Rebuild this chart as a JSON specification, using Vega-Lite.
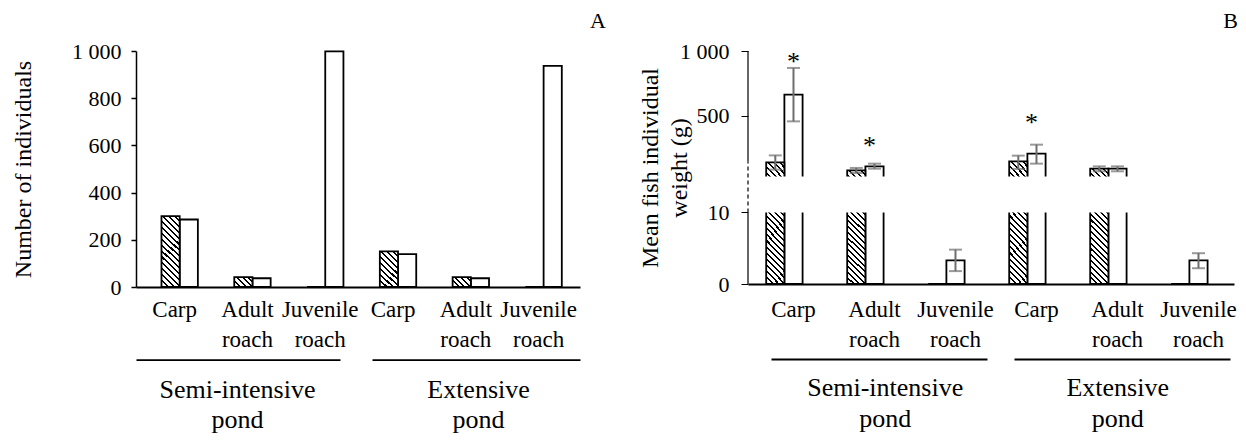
{
  "$schema": "https://vega.github.io/schema/vega-lite/v6.json",
  "background": "white",
  "padding": {"left": 11, "top": 10, "right": 0, "bottom": 0},
  "config": {
    "view": {"stroke": null},
    "font": "Liberation Serif",
    "text": {"font": "Liberation Serif"},
    "axis": {"labelFont": "Liberation Serif", "titleFont": "Liberation Serif", "labelColor": "black", "titleColor": "black", "titleFontWeight": "normal", "labelFontWeight": "normal", "grid": false, "domainColor": "black", "tickColor": "black"},
    "title": {"font": "Liberation Serif", "fontWeight": "normal", "color": "black", "fontSize": 22}
  },
  "datasets": {
    "countA": [
      {"pond": "Semi-intensive pond", "species": "Carp", "cat": "S-Carp", "series": "I", "n": 300},
      {"pond": "Semi-intensive pond", "species": "Carp", "cat": "S-Carp", "series": "II", "n": 286},
      {"pond": "Semi-intensive pond", "species": "Adult roach", "cat": "S-Adult roach", "series": "I", "n": 42},
      {"pond": "Semi-intensive pond", "species": "Adult roach", "cat": "S-Adult roach", "series": "II", "n": 37},
      {"pond": "Semi-intensive pond", "species": "Juvenile roach", "cat": "S-Juvenile roach", "series": "I", "n": 0},
      {"pond": "Semi-intensive pond", "species": "Juvenile roach", "cat": "S-Juvenile roach", "series": "II", "n": 998},
      {"pond": "Extensive pond", "species": "Carp", "cat": "E-Carp", "series": "I", "n": 151},
      {"pond": "Extensive pond", "species": "Carp", "cat": "E-Carp", "series": "II", "n": 139},
      {"pond": "Extensive pond", "species": "Adult roach", "cat": "E-Adult roach", "series": "I", "n": 42},
      {"pond": "Extensive pond", "species": "Adult roach", "cat": "E-Adult roach", "series": "II", "n": 37},
      {"pond": "Extensive pond", "species": "Juvenile roach", "cat": "E-Juvenile roach", "series": "I", "n": 0},
      {"pond": "Extensive pond", "species": "Juvenile roach", "cat": "E-Juvenile roach", "series": "II", "n": 937}
    ],
    "weightB": [
      {"pond": "Semi-intensive pond", "species": "Carp", "cat": "S-Carp", "series": "I", "mean": 139, "lo": 83, "hi": 193},
      {"pond": "Semi-intensive pond", "species": "Carp", "cat": "S-Carp", "series": "II", "mean": 662, "lo": 456, "hi": 869},
      {"pond": "Semi-intensive pond", "species": "Adult roach", "cat": "S-Adult roach", "series": "I", "mean": 77, "lo": 57, "hi": 96},
      {"pond": "Semi-intensive pond", "species": "Adult roach", "cat": "S-Adult roach", "series": "II", "mean": 108, "lo": 90, "hi": 129},
      {"pond": "Semi-intensive pond", "species": "Juvenile roach", "cat": "S-Juvenile roach", "series": "I", "mean": 0, "lo": null, "hi": null},
      {"pond": "Semi-intensive pond", "species": "Juvenile roach", "cat": "S-Juvenile roach", "series": "II", "mean": 3.3, "lo": 1.8, "hi": 4.8},
      {"pond": "Extensive pond", "species": "Carp", "cat": "E-Carp", "series": "I", "mean": 147, "lo": 88, "hi": 191},
      {"pond": "Extensive pond", "species": "Carp", "cat": "E-Carp", "series": "II", "mean": 206, "lo": 129, "hi": 276},
      {"pond": "Extensive pond", "species": "Adult roach", "cat": "E-Adult roach", "series": "I", "mean": 90, "lo": 70, "hi": 108},
      {"pond": "Extensive pond", "species": "Adult roach", "cat": "E-Adult roach", "series": "II", "mean": 90, "lo": 70, "hi": 108},
      {"pond": "Extensive pond", "species": "Juvenile roach", "cat": "E-Juvenile roach", "series": "I", "mean": 0, "lo": null, "hi": null},
      {"pond": "Extensive pond", "species": "Juvenile roach", "cat": "E-Juvenile roach", "series": "II", "mean": 3.3, "lo": 2.2, "hi": 4.3}
    ],
    "stars": [
      {"cat": "S-Carp", "series": "II", "star_y": 855},
      {"cat": "S-Adult roach", "star_y": 207},
      {"cat": "E-Carp", "star_y": 383}
    ],
    "ponds": [
      {"pond": "Semi-intensive pond"},
      {"pond": "Extensive pond"}
    ]
  },
  "spacing": 168,
  "bounds": "flush",
  "hconcat": [
    {
      "width": 444,
      "height": 236,
      "title": {"text": "A", "anchor": "end", "frame": "group", "dx": 26, "offset": -10, "baseline": "alphabetic", "font": "Liberation Serif"},
      "layer": [
        {
          "data": {"name": "countA"},
          "encoding": {
            "x": {"field": "cat", "type": "nominal", "title": null,
              "scale": {"type": "band", "domain": ["S-Carp", "S-Adult roach", "S-Juvenile roach", "E-Carp", "E-Adult roach", "E-Juvenile roach"], "paddingInner": 0, "paddingOuter": 0.05, "align": 1},
              "axis": {"orient": "bottom", "domainWidth": 2, "ticks": false, "tickSize": 0, "labelAngle": 0, "labelOffset": -5, "labelExpr": "split(substring(datum.label, 2), ' ')", "labelFont": "Liberation Serif", "labelFontSize": 23, "labelPadding": 29, "labelBaseline": "alphabetic", "labelLineHeight": 30, "labelOverlap": false, "labelLimit": 300}},
            "xOffset": {"field": "series", "type": "nominal", "scale": {"domain": ["I", "II"], "paddingInner": 0, "paddingOuter": 1.08}},
            "y": {"field": "n", "type": "quantitative", "scale": {"domain": [0, 1000], "nice": false},
              "axis": {"values": [0, 200, 400, 600, 800, 1000], "format": ",d", "labelExpr": "replace(datum.label, ',', ' ')", "labelFont": "Liberation Serif", "labelFontSize": 22, "labelPadding": 10, "tickSize": 5, "tickWidth": 1.5, "domainWidth": 1.5, "title": "Number of individuals", "titleFont": "Liberation Serif", "titleFontSize": 24, "titlePadding": 36}}
          },
          "layer": [
            {"transform": [{"filter": "datum.series == 'II'"}], "mark": {"type": "bar", "fill": "white", "stroke": "black", "strokeWidth": 1.8}},
            {"transform": [{"filter": "datum.series == 'I' && datum.cat == 'S-Carp'"}], "mark": {"type": "bar", "stroke": "black", "strokeWidth": 1.8,
              "fill": {"gradient": "linear", "x1": 0, "y1": 1, "x2": 0.2905, "y2": -0.1754, "stops": [
                {"offset": 0, "color": "#000"}, {"offset": 0.0233, "color": "#000"}, {"offset": 0.0233, "color": "#fff"}, {"offset": 0.0667, "color": "#fff"},
                {"offset": 0.0667, "color": "#000"}, {"offset": 0.09, "color": "#000"}, {"offset": 0.09, "color": "#fff"}, {"offset": 0.1333, "color": "#fff"},
                {"offset": 0.1333, "color": "#000"}, {"offset": 0.1567, "color": "#000"}, {"offset": 0.1567, "color": "#fff"}, {"offset": 0.2, "color": "#fff"},
                {"offset": 0.2, "color": "#000"}, {"offset": 0.2233, "color": "#000"}, {"offset": 0.2233, "color": "#fff"}, {"offset": 0.2667, "color": "#fff"},
                {"offset": 0.2667, "color": "#000"}, {"offset": 0.29, "color": "#000"}, {"offset": 0.29, "color": "#fff"}, {"offset": 0.3333, "color": "#fff"},
                {"offset": 0.3333, "color": "#000"}, {"offset": 0.3567, "color": "#000"}, {"offset": 0.3567, "color": "#fff"}, {"offset": 0.4, "color": "#fff"},
                {"offset": 0.4, "color": "#000"}, {"offset": 0.4233, "color": "#000"}, {"offset": 0.4233, "color": "#fff"}, {"offset": 0.4667, "color": "#fff"},
                {"offset": 0.4667, "color": "#000"}, {"offset": 0.49, "color": "#000"}, {"offset": 0.49, "color": "#fff"}, {"offset": 0.5333, "color": "#fff"},
                {"offset": 0.5333, "color": "#000"}, {"offset": 0.5567, "color": "#000"}, {"offset": 0.5567, "color": "#fff"}, {"offset": 0.6, "color": "#fff"},
                {"offset": 0.6, "color": "#000"}, {"offset": 0.6233, "color": "#000"}, {"offset": 0.6233, "color": "#fff"}, {"offset": 0.6667, "color": "#fff"},
                {"offset": 0.6667, "color": "#000"}, {"offset": 0.69, "color": "#000"}, {"offset": 0.69, "color": "#fff"}, {"offset": 0.7333, "color": "#fff"},
                {"offset": 0.7333, "color": "#000"}, {"offset": 0.7567, "color": "#000"}, {"offset": 0.7567, "color": "#fff"}, {"offset": 0.8, "color": "#fff"},
                {"offset": 0.8, "color": "#000"}, {"offset": 0.8233, "color": "#000"}, {"offset": 0.8233, "color": "#fff"}, {"offset": 0.8667, "color": "#fff"},
                {"offset": 0.8667, "color": "#000"}, {"offset": 0.89, "color": "#000"}, {"offset": 0.89, "color": "#fff"}, {"offset": 0.9333, "color": "#fff"},
                {"offset": 0.9333, "color": "#000"}, {"offset": 0.9567, "color": "#000"}, {"offset": 0.9567, "color": "#fff"}, {"offset": 1, "color": "#fff"}
              ]}}},
            {"transform": [{"filter": "datum.series == 'I' && datum.cat == 'E-Carp'"}], "mark": {"type": "bar", "stroke": "black", "strokeWidth": 1.8,
              "fill": {"gradient": "linear", "x1": 0, "y1": 1, "x2": 0.5899, "y2": -0.2014, "stops": [
                {"offset": 0, "color": "#000"}, {"offset": 0.0389, "color": "#000"}, {"offset": 0.0389, "color": "#fff"}, {"offset": 0.1111, "color": "#fff"},
                {"offset": 0.1111, "color": "#000"}, {"offset": 0.15, "color": "#000"}, {"offset": 0.15, "color": "#fff"}, {"offset": 0.2222, "color": "#fff"},
                {"offset": 0.2222, "color": "#000"}, {"offset": 0.2611, "color": "#000"}, {"offset": 0.2611, "color": "#fff"}, {"offset": 0.3333, "color": "#fff"},
                {"offset": 0.3333, "color": "#000"}, {"offset": 0.3722, "color": "#000"}, {"offset": 0.3722, "color": "#fff"}, {"offset": 0.4444, "color": "#fff"},
                {"offset": 0.4444, "color": "#000"}, {"offset": 0.4833, "color": "#000"}, {"offset": 0.4833, "color": "#fff"}, {"offset": 0.5556, "color": "#fff"},
                {"offset": 0.5556, "color": "#000"}, {"offset": 0.5944, "color": "#000"}, {"offset": 0.5944, "color": "#fff"}, {"offset": 0.6667, "color": "#fff"},
                {"offset": 0.6667, "color": "#000"}, {"offset": 0.7056, "color": "#000"}, {"offset": 0.7056, "color": "#fff"}, {"offset": 0.7778, "color": "#fff"},
                {"offset": 0.7778, "color": "#000"}, {"offset": 0.8167, "color": "#000"}, {"offset": 0.8167, "color": "#fff"}, {"offset": 0.8889, "color": "#fff"},
                {"offset": 0.8889, "color": "#000"}, {"offset": 0.9278, "color": "#000"}, {"offset": 0.9278, "color": "#fff"}, {"offset": 1, "color": "#fff"}
              ]}}},
            {"transform": [{"filter": "datum.series == 'I' && datum.species != 'Carp'"}], "mark": {"type": "bar", "stroke": "black", "strokeWidth": 1.8,
              "fill": {"gradient": "linear", "x1": 0, "y1": 1, "x2": 1.186, "y2": 0.3284, "stops": [
                {"offset": 0, "color": "#000"}, {"offset": 0.07, "color": "#000"}, {"offset": 0.07, "color": "#fff"}, {"offset": 0.2, "color": "#fff"},
                {"offset": 0.2, "color": "#000"}, {"offset": 0.27, "color": "#000"}, {"offset": 0.27, "color": "#fff"}, {"offset": 0.4, "color": "#fff"},
                {"offset": 0.4, "color": "#000"}, {"offset": 0.47, "color": "#000"}, {"offset": 0.47, "color": "#fff"}, {"offset": 0.6, "color": "#fff"},
                {"offset": 0.6, "color": "#000"}, {"offset": 0.67, "color": "#000"}, {"offset": 0.67, "color": "#fff"}, {"offset": 0.8, "color": "#fff"},
                {"offset": 0.8, "color": "#000"}, {"offset": 0.87, "color": "#000"}, {"offset": 0.87, "color": "#fff"}, {"offset": 1, "color": "#fff"}
              ]}}}
          ]
        },
        {
          "data": {"name": "ponds"},
          "mark": {"type": "text"},
          "encoding": {
            "text": {"value": ""},
            "x": {"field": "pond", "type": "nominal", "title": null,
              "scale": {"type": "band", "domain": ["Semi-intensive pond", "Extensive pond"], "paddingInner": 0.158, "paddingOuter": 0},
              "axis": {"orient": "bottom", "offset": 72.7, "domainWidth": 1.8, "domainDash": [204, 32, 300], "ticks": false, "tickSize": 0, "labelAngle": 0, "labelExpr": "split(datum.label, ' ')", "labelFont": "Liberation Serif", "labelFontSize": 26, "labelPadding": 38, "labelBaseline": "alphabetic", "labelLineHeight": 30, "labelOverlap": false, "labelLimit": 400}}
          }
        }
      ],
      "resolve": {"scale": {"x": "independent"}}
    },
    {
      "width": 486,
      "height": 233,
      "title": {"text": "B", "anchor": "end", "frame": "group", "dx": 4, "offset": -10, "baseline": "alphabetic", "font": "Liberation Serif"},
      "layer": [
        {
          "data": {"name": "weightB"},
          "encoding": {
            "x": {"field": "cat", "type": "nominal", "title": null,
              "scale": {"type": "band", "domain": ["S-Carp", "S-Adult roach", "S-Juvenile roach", "E-Carp", "E-Adult roach", "E-Juvenile roach"], "paddingInner": 0, "paddingOuter": 0},
              "axis": {"orient": "bottom", "domainWidth": 2, "ticks": false, "tickSize": 0, "labelAngle": 0, "labelOffset": 5, "labelExpr": "split(substring(datum.label, 2), ' ')", "labelFont": "Liberation Serif", "labelFontSize": 23, "labelPadding": 32, "labelBaseline": "alphabetic", "labelLineHeight": 30, "labelOverlap": false, "labelLimit": 300}}
          },
          "layer": [
            {"transform": [{"filter": "datum.series == 'II'"}], "mark": {"type": "bar", "fill": "white", "stroke": "black", "strokeWidth": 1.8},
              "encoding": {
                "xOffset": {"field": "series", "type": "nominal", "scale": {"domain": ["I", "II"], "paddingInner": 0, "paddingOuter": 1.189}},
                "y": {"field": "mean", "type": "quantitative", "scale": {"domain": [0, 10, 29, 1000], "range": [233, 161.4, 125.6, 0], "nice": false, "zero": false},
                  "axis": {"values": [0, 10, 500, 1000], "format": ",d", "labelExpr": "replace(datum.label, ',', ' ')", "labelFont": "Liberation Serif", "labelFontSize": 22, "labelPadding": 12, "tickSize": 7, "tickWidth": 1, "domain": false, "title": ["Mean fish individual", "weight (g)"], "titleFont": "Liberation Serif", "titleFontSize": 24, "titleLineHeight": 29, "titlePadding": -12}}
              }},
            {"transform": [{"filter": "datum.series == 'I'"}], "mark": {"type": "bar", "stroke": "black", "strokeWidth": 1.8,
              "fill": {"gradient": "linear", "x1": 0, "y1": 1, "x2": 0.177, "y2": -0.129, "stops": [
                {"offset": 0, "color": "#000"}, {"offset": 0.0152, "color": "#000"}, {"offset": 0.0152, "color": "#fff"}, {"offset": 0.0435, "color": "#fff"},
                {"offset": 0.0435, "color": "#000"}, {"offset": 0.0587, "color": "#000"}, {"offset": 0.0587, "color": "#fff"}, {"offset": 0.087, "color": "#fff"},
                {"offset": 0.087, "color": "#000"}, {"offset": 0.1022, "color": "#000"}, {"offset": 0.1022, "color": "#fff"}, {"offset": 0.1304, "color": "#fff"},
                {"offset": 0.1304, "color": "#000"}, {"offset": 0.1457, "color": "#000"}, {"offset": 0.1457, "color": "#fff"}, {"offset": 0.1739, "color": "#fff"},
                {"offset": 0.1739, "color": "#000"}, {"offset": 0.1891, "color": "#000"}, {"offset": 0.1891, "color": "#fff"}, {"offset": 0.2174, "color": "#fff"},
                {"offset": 0.2174, "color": "#000"}, {"offset": 0.2326, "color": "#000"}, {"offset": 0.2326, "color": "#fff"}, {"offset": 0.2609, "color": "#fff"},
                {"offset": 0.2609, "color": "#000"}, {"offset": 0.2761, "color": "#000"}, {"offset": 0.2761, "color": "#fff"}, {"offset": 0.3043, "color": "#fff"},
                {"offset": 0.3043, "color": "#000"}, {"offset": 0.3196, "color": "#000"}, {"offset": 0.3196, "color": "#fff"}, {"offset": 0.3478, "color": "#fff"},
                {"offset": 0.3478, "color": "#000"}, {"offset": 0.363, "color": "#000"}, {"offset": 0.363, "color": "#fff"}, {"offset": 0.3913, "color": "#fff"},
                {"offset": 0.3913, "color": "#000"}, {"offset": 0.4065, "color": "#000"}, {"offset": 0.4065, "color": "#fff"}, {"offset": 0.4348, "color": "#fff"},
                {"offset": 0.4348, "color": "#000"}, {"offset": 0.45, "color": "#000"}, {"offset": 0.45, "color": "#fff"}, {"offset": 0.4783, "color": "#fff"},
                {"offset": 0.4783, "color": "#000"}, {"offset": 0.4935, "color": "#000"}, {"offset": 0.4935, "color": "#fff"}, {"offset": 0.5217, "color": "#fff"},
                {"offset": 0.5217, "color": "#000"}, {"offset": 0.537, "color": "#000"}, {"offset": 0.537, "color": "#fff"}, {"offset": 0.5652, "color": "#fff"},
                {"offset": 0.5652, "color": "#000"}, {"offset": 0.5804, "color": "#000"}, {"offset": 0.5804, "color": "#fff"}, {"offset": 0.6087, "color": "#fff"},
                {"offset": 0.6087, "color": "#000"}, {"offset": 0.6239, "color": "#000"}, {"offset": 0.6239, "color": "#fff"}, {"offset": 0.6522, "color": "#fff"},
                {"offset": 0.6522, "color": "#000"}, {"offset": 0.6674, "color": "#000"}, {"offset": 0.6674, "color": "#fff"}, {"offset": 0.6957, "color": "#fff"},
                {"offset": 0.6957, "color": "#000"}, {"offset": 0.7109, "color": "#000"}, {"offset": 0.7109, "color": "#fff"}, {"offset": 0.7391, "color": "#fff"},
                {"offset": 0.7391, "color": "#000"}, {"offset": 0.7543, "color": "#000"}, {"offset": 0.7543, "color": "#fff"}, {"offset": 0.7826, "color": "#fff"},
                {"offset": 0.7826, "color": "#000"}, {"offset": 0.7978, "color": "#000"}, {"offset": 0.7978, "color": "#fff"}, {"offset": 0.8261, "color": "#fff"},
                {"offset": 0.8261, "color": "#000"}, {"offset": 0.8413, "color": "#000"}, {"offset": 0.8413, "color": "#fff"}, {"offset": 0.8696, "color": "#fff"},
                {"offset": 0.8696, "color": "#000"}, {"offset": 0.8848, "color": "#000"}, {"offset": 0.8848, "color": "#fff"}, {"offset": 0.913, "color": "#fff"},
                {"offset": 0.913, "color": "#000"}, {"offset": 0.9283, "color": "#000"}, {"offset": 0.9283, "color": "#fff"}, {"offset": 0.9565, "color": "#fff"},
                {"offset": 0.9565, "color": "#000"}, {"offset": 0.9717, "color": "#000"}, {"offset": 0.9717, "color": "#fff"}, {"offset": 1, "color": "#fff"}
              ]}},
              "encoding": {
                "xOffset": {"field": "series", "type": "nominal"},
                "y": {"field": "mean", "type": "quantitative"}
              }},
            {"transform": [{"filter": "isValid(datum.lo)"}], "mark": {"type": "rule", "color": "#6e6e6e", "strokeWidth": 2},
              "encoding": {"xOffset": {"field": "series", "type": "nominal"}, "y": {"field": "lo", "type": "quantitative"}, "y2": {"field": "hi"}}},
            {"transform": [{"filter": "isValid(datum.lo)"}], "mark": {"type": "tick", "color": "#6e6e6e", "thickness": 2, "size": 13},
              "encoding": {"xOffset": {"field": "series", "type": "nominal"}, "y": {"field": "hi", "type": "quantitative"}}},
            {"transform": [{"filter": "isValid(datum.lo)"}], "mark": {"type": "tick", "color": "#6e6e6e", "thickness": 2, "size": 13},
              "encoding": {"xOffset": {"field": "series", "type": "nominal"}, "y": {"field": "lo", "type": "quantitative"}}},
            {"transform": [{"filter": "datum.series == 'II'"}], "mark": {"type": "bar", "fill": "white", "strokeWidth": 0},
              "encoding": {"y": {"datum": 10, "type": "quantitative"}, "y2": {"datum": 29}}},
            {"transform": [{"filter": "datum.cat == 'S-Carp' && datum.series == 'I'"}], "mark": {"type": "rule", "color": "black", "strokeWidth": 1.2},
              "encoding": {"x": {"field": "cat", "type": "nominal", "bandPosition": 0, "title": null, "scale": {"type": "band", "domain": ["S-Carp", "S-Adult roach", "S-Juvenile roach", "E-Carp", "E-Adult roach", "E-Juvenile roach"], "paddingInner": 0, "paddingOuter": 0}},
                "y": {"datum": 0, "type": "quantitative"}, "y2": {"datum": 10}}},
            {"transform": [{"filter": "datum.cat == 'S-Carp' && datum.series == 'I'"}], "mark": {"type": "rule", "color": "black", "strokeWidth": 1.2, "strokeDash": [4, 3]},
              "encoding": {"x": {"field": "cat", "type": "nominal", "bandPosition": 0, "title": null, "scale": {"type": "band", "domain": ["S-Carp", "S-Adult roach", "S-Juvenile roach", "E-Carp", "E-Adult roach", "E-Juvenile roach"], "paddingInner": 0, "paddingOuter": 0}},
                "y": {"datum": 10, "type": "quantitative"}, "y2": {"datum": 145}}},
            {"transform": [{"filter": "datum.cat == 'S-Carp' && datum.series == 'I'"}], "mark": {"type": "rule", "color": "black", "strokeWidth": 1.2},
              "encoding": {"x": {"field": "cat", "type": "nominal", "bandPosition": 0, "title": null, "scale": {"type": "band", "domain": ["S-Carp", "S-Adult roach", "S-Juvenile roach", "E-Carp", "E-Adult roach", "E-Juvenile roach"], "paddingInner": 0, "paddingOuter": 0}},
                "y": {"datum": 145, "type": "quantitative"}, "y2": {"datum": 1000}}},
            {"data": {"name": "stars"}, "transform": [{"filter": "isValid(datum.series)"}], "mark": {"type": "text", "text": "*", "font": "Liberation Serif", "fontSize": 26, "baseline": "alphabetic", "color": "black"},
              "encoding": {"xOffset": {"field": "series", "type": "nominal"}, "y": {"field": "star_y", "type": "quantitative"}}},
            {"data": {"name": "stars"}, "transform": [{"filter": "!isValid(datum.series)"}], "mark": {"type": "text", "text": "*", "font": "Liberation Serif", "fontSize": 26, "baseline": "alphabetic", "color": "black"},
              "encoding": {"y": {"field": "star_y", "type": "quantitative"}}}
          ]
        },
        {
          "data": {"name": "ponds"},
          "mark": {"type": "text"},
          "encoding": {
            "text": {"value": ""},
            "x": {"field": "pond", "type": "nominal", "title": null,
              "scale": {"type": "band", "domain": ["Semi-intensive pond", "Extensive pond"], "paddingInner": 0, "paddingOuter": 0.045, "align": 1},
              "axis": {"orient": "bottom", "offset": 75, "domainWidth": 1.8, "domainDash": [216, 27, 216, 50], "domainDashOffset": 486, "ticks": false, "tickSize": 0, "labelAngle": 0, "labelExpr": "split(datum.label, ' ')", "labelFont": "Liberation Serif", "labelFontSize": 26, "labelPadding": 36, "labelBaseline": "alphabetic", "labelLineHeight": 31, "labelOverlap": false, "labelLimit": 400}}
          }
        }
      ],
      "resolve": {"scale": {"x": "independent"}}
    }
  ]
}
